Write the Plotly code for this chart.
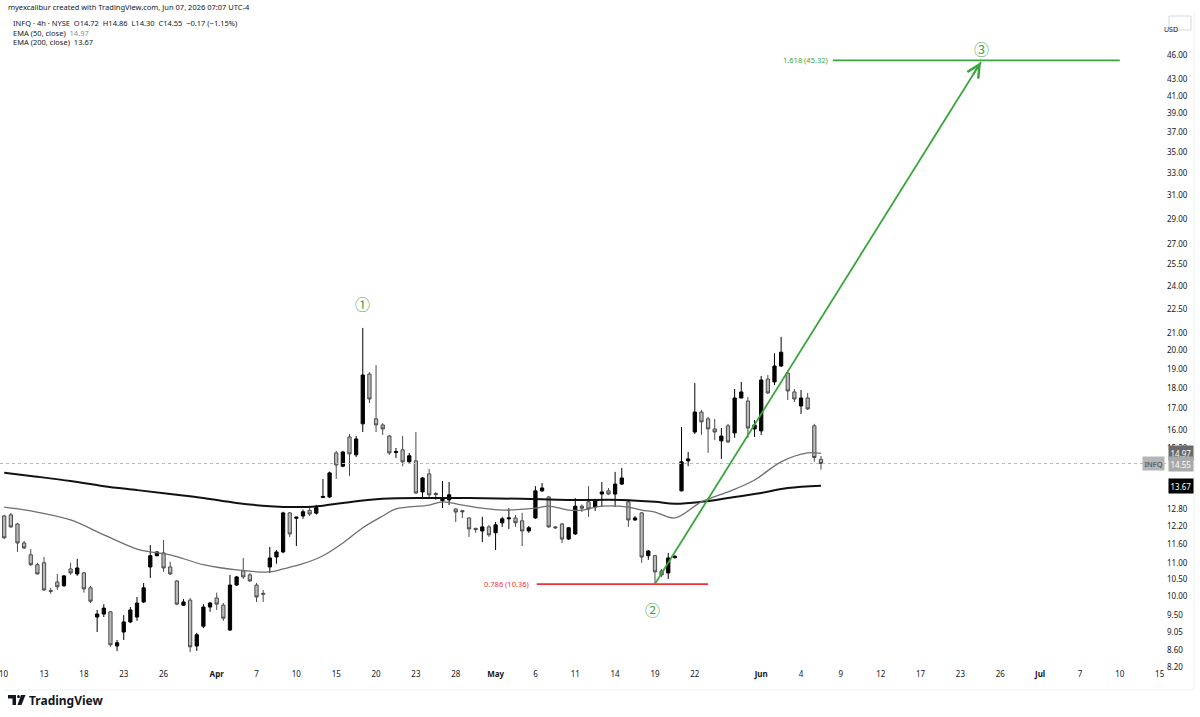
import math
import pandas as pd
import plotly.graph_objects as go

# ---------------- data ----------------
opens = [12.55, 12.59, 12.27, 11.63, 11.25, 10.94, 11.00, 10.17, 10.42, 10.31,
         10.81, 10.66, 10.69, 10.25, 9.44, 9.52, 9.58, 8.70, 9.05, 9.31,
         9.44, 9.85, 10.87, 11.22, 11.31, 10.87, 10.45, 9.76, 9.90, 8.70,
         9.20, 9.71, 9.96, 9.76, 9.10, 10.33, 10.75, 10.63, 10.33, 10.09,
         10.87, 11.18, 11.34, 12.66, 12.47, 12.55, 12.75, 12.65, 13.22, 13.24,
         14.99, 14.44, 15.68, 14.91, 16.27, 18.72, 16.50, 16.22, 15.72, 15.01,
         15.12, 14.62, 14.66, 13.43, 14.13, 13.37, 13.10, 13.13, 12.80, 12.74,
         12.48, 12.12, 12.03, 12.17, 11.97, 12.31, 12.45, 12.48, 12.38, 12.03,
         12.48, 13.47, 13.24, 12.17, 12.27, 11.76, 11.93, 12.90, 13.06, 12.87,
         13.35, 13.47, 13.35, 13.73, 13.06, 12.41, 12.66, 11.22, 11.22, 10.75,
         10.69, 11.16, 13.47, 14.66, 15.90, 16.82, 16.50, 16.04, 15.51, 16.18,
         15.86, 17.50, 17.35, 16.04, 15.95, 18.46, 18.31, 19.15, 18.77, 17.80,
         17.11, 17.50, 16.18, 14.72]
highs = [12.59, 12.66, 12.31, 11.70, 11.43, 11.00, 11.18, 10.25, 10.66, 10.63,
         11.00, 11.12, 10.72, 10.31, 9.63, 9.79, 9.60, 8.85, 9.49, 9.71,
         9.99, 10.39, 11.56, 11.37, 11.73, 11.03, 10.48, 9.93, 9.96, 9.03,
         9.79, 9.85, 10.11, 9.82, 10.63, 10.60, 11.15, 10.69, 10.39, 10.19,
         11.50, 11.40, 12.70, 12.69, 12.52, 12.78, 12.85, 12.95, 13.93, 14.22,
         15.08, 15.08, 15.81, 15.72, 21.32, 18.83, 19.20, 16.30, 15.77, 15.20,
         15.72, 14.99, 15.90, 14.01, 14.33, 13.43, 13.85, 13.81, 12.82, 12.76,
         12.50, 12.14, 12.52, 12.24, 12.34, 12.52, 12.83, 12.59, 12.66, 12.20,
         13.65, 13.77, 13.28, 12.20, 12.31, 12.17, 13.20, 12.97, 13.65, 13.17,
         13.81, 13.58, 14.21, 14.37, 13.13, 12.55, 12.69, 11.40, 11.25, 10.81,
         11.31, 11.24, 16.13, 15.03, 18.25, 16.92, 16.59, 16.50, 16.08, 16.27,
         17.95, 18.31, 17.55, 16.45, 18.62, 18.67, 19.85, 20.79, 18.93, 17.95,
         17.90, 17.75, 16.27, 14.86]
lows = [11.76, 12.14, 11.34, 11.43, 10.90, 10.64, 10.16, 10.08, 10.19, 10.28,
        10.63, 10.60, 10.11, 9.82, 9.05, 9.44, 8.68, 8.58, 8.85, 9.28,
        9.34, 9.82, 10.54, 11.20, 10.72, 10.63, 9.76, 9.74, 8.55, 8.58,
        9.15, 9.58, 9.63, 9.34, 9.08, 10.30, 10.51, 10.42, 9.85, 9.85,
        10.69, 10.97, 11.30, 11.83, 11.53, 12.45, 12.55, 12.60, 13.20, 13.20,
        13.93, 14.40, 14.05, 14.82, 15.90, 17.25, 15.90, 15.77, 14.91, 14.78,
        14.44, 14.58, 13.35, 13.24, 13.20, 13.13, 12.83, 12.94, 12.34, 12.48,
        11.83, 11.97, 11.66, 11.83, 11.40, 12.17, 12.10, 12.17, 11.53, 11.97,
        12.45, 13.43, 12.14, 12.10, 11.63, 11.73, 11.90, 12.69, 12.52, 12.73,
        12.87, 13.32, 12.87, 13.69, 12.17, 12.38, 11.00, 11.09, 10.36, 10.57,
        10.51, 11.13, 13.45, 14.44, 15.81, 15.77, 14.99, 15.55, 14.74, 15.42,
        15.64, 17.48, 15.64, 15.68, 15.77, 17.70, 18.15, 19.10, 17.40, 17.30,
        16.73, 16.92, 14.62, 14.30]
closes = [11.80, 12.17, 11.63, 11.47, 10.94, 10.66, 10.19, 10.15, 10.28, 10.60,
          10.69, 10.84, 10.22, 9.87, 9.52, 9.68, 8.73, 8.78, 9.31, 9.63,
          9.82, 10.25, 11.22, 11.34, 10.84, 10.66, 9.79, 9.85, 8.68, 8.98,
          9.71, 9.82, 9.79, 9.41, 10.33, 10.57, 10.57, 10.45, 9.99, 10.07,
          11.15, 11.34, 12.66, 11.93, 12.51, 12.70, 12.62, 12.85, 13.26, 14.17,
          14.49, 15.03, 14.95, 15.59, 18.67, 17.45, 16.22, 16.04, 14.99, 15.05,
          14.62, 14.87, 13.39, 13.97, 13.32, 13.33, 13.16, 13.32, 12.69, 12.70,
          12.10, 12.08, 12.17, 11.90, 12.24, 12.45, 12.48, 12.31, 12.03, 12.14,
          13.47, 13.58, 12.17, 12.14, 11.76, 12.14, 12.90, 12.83, 12.80, 13.13,
          13.43, 13.35, 13.73, 13.97, 12.41, 12.48, 11.18, 11.37, 10.72, 10.63,
          11.15, 11.20, 14.62, 14.74, 16.82, 16.36, 16.04, 15.90, 15.72, 15.46,
          17.50, 17.80, 16.08, 16.22, 18.41, 17.75, 19.15, 19.91, 17.85, 17.45,
          17.50, 16.97, 14.80, 14.55]

# EMA values read at sample bars
ema50_bars = [0, 4, 10, 15, 20, 22, 25, 30, 35, 40, 42, 45, 48, 51, 54, 57, 59, 64, 66,
              69, 72, 75, 80, 82, 85, 87, 90, 94, 96, 98, 101, 105, 109, 113, 117, 121, 123]
ema50_vals = [12.87, 12.73, 12.41, 11.90, 11.43, 11.34, 11.25, 10.94, 10.78, 10.72, 10.81,
              10.97, 11.22, 11.63, 12.14, 12.55, 12.80, 12.94, 13.06, 12.94, 12.83, 12.76,
              12.83, 12.90, 12.76, 12.76, 12.90, 12.87, 12.76, 12.69, 12.48, 13.06, 13.43,
              13.89, 14.62, 14.99, 14.97]
ema200_bars = [0, 4, 10, 15, 20, 25, 30, 35, 40, 45, 48, 51, 57, 64, 70, 78, 85, 93,
               98, 101, 105, 109, 114, 118, 123]
ema200_vals = [14.18, 14.05, 13.85, 13.65, 13.50, 13.35, 13.20, 13.02, 12.90, 12.87,
               12.92, 13.02, 13.17, 13.20, 13.20, 13.17, 13.13, 13.13, 13.06, 12.99,
               13.06, 13.20, 13.39, 13.58, 13.67]

last_price = 14.55
ema50_last = 14.97
ema200_last = 13.67

# Elliott / fib drawing
fib_786 = 10.36
fib_1618 = 45.32
wave2_bar, wave2_price = 98, 10.36
wave3_bar, wave3_price = 147.1, 45.1
fib786_bars = [80.2, 106]
fib1618_bars = [124.8, 168]
wave_labels = ["①", "②", "③"]
wave_label_bars = [53.9, 97.6, 147.1]
wave_label_prices = [22.81, 9.65, 46.9]

y_ticks = [8.20, 8.60, 9.05, 9.50, 10.00, 10.50, 11.00, 11.60, 12.20, 12.80,
           15.20, 16.00, 17.00, 18.00, 19.00, 20.00, 21.00, 22.50, 24.00, 25.50, 27.00,
           29.00, 31.00, 33.00, 35.00, 37.00, 39.00, 41.00, 43.00, 46.00]

tick_dates = ["2026-03-10", "2026-03-13", "2026-03-18", "2026-03-23", "2026-03-26",
              "2026-04-01", "2026-04-07", "2026-04-10", "2026-04-15", "2026-04-20",
              "2026-04-23", "2026-04-28", "2026-05-01", "2026-05-06", "2026-05-11",
              "2026-05-14", "2026-05-19", "2026-05-22", "2026-06-01", "2026-06-04",
              "2026-06-09", "2026-06-12", "2026-06-17", "2026-06-23", "2026-06-26",
              "2026-07-01", "2026-07-07", "2026-07-10", "2026-07-15"]
tick_labels = ["10", "13", "18", "23", "26", "<b>Apr</b>", "7", "10", "15", "20", "23", "28",
               "<b>May</b>", "6", "11", "14", "19", "22", "<b>Jun</b>", "4", "9", "12", "17",
               "23", "26", "<b>Jul</b>", "7", "10", "15"]
holidays = ["2026-04-03", "2026-05-25", "2026-06-19", "2026-07-03"]

# ---------------- layout constants ----------------
W, H = 1200, 717
ML, MR, MT, MB = 0, 34, 12, 49
PW, PH = W - ML - MR, H - MT - MB
X_RANGE = [-0.316, 87.48]
Y_RANGE = [0.9126, 1.7154]
FONT = "Noto Sans"
TXT = "#131722"
GREEN = "#3aa53f"
RED = "#f0303f"

days = [d for d in pd.bdate_range("2026-03-10", "2026-07-15").strftime("%Y-%m-%d") if d not in holidays]
day_index = {d: i for i, d in enumerate(days)}
tickvals = [day_index[d] for d in tick_dates]

bar_x = [k / 2 for k in range(len(opens))]


def bx(b):
    return b / 2


def px(x):
    return (x - ML) / PW


def py(y):
    return (H - MB - y) / PH


fig = go.Figure()

# price line (dotted)
fig.add_trace(go.Scatter(x=X_RANGE, y=[last_price, last_price], mode="lines",
                         line=dict(color="#b8b8b8", width=1, dash="dot"), hoverinfo="skip"))

# EMAs
fig.add_trace(go.Scatter(x=[bx(b) for b in ema200_bars], y=ema200_vals, mode="lines",
                         line=dict(color="#111111", width=2, shape="spline"), hoverinfo="skip"))
fig.add_trace(go.Scatter(x=[bx(b) for b in ema50_bars], y=ema50_vals, mode="lines",
                         line=dict(color="#6e6e6e", width=1.3, shape="spline"), hoverinfo="skip"))

# candles
fig.add_trace(go.Candlestick(
    x=bar_x, open=opens, high=highs, low=lows, close=closes,
    increasing=dict(line=dict(color="#000000", width=1), fillcolor="#000000"),
    decreasing=dict(line=dict(color="#4a4a4a", width=1), fillcolor="#b9b9b9"),
    whiskerwidth=0, hoverinfo="skip"))

# fib lines
fig.add_trace(go.Scatter(x=[bx(b) for b in fib786_bars], y=[fib_786, fib_786], mode="lines",
                         line=dict(color=RED, width=1.8), hoverinfo="skip"))
fig.add_trace(go.Scatter(x=[bx(b) for b in fib1618_bars], y=[fib_1618, fib_1618], mode="lines",
                         line=dict(color=GREEN, width=1.8), hoverinfo="skip"))
# wave arrow
fig.add_trace(go.Scatter(x=[bx(wave2_bar), bx(wave3_bar)], y=[wave2_price, wave3_price], mode="lines",
                         line=dict(color=GREEN, width=1.8), hoverinfo="skip"))

annotations = []
annotations.append(dict(x=bx(wave3_bar), y=math.log10(wave3_price), xref="x", yref="y",
                        text="", showarrow=True, ax=-9, ay=14.5, arrowhead=5, arrowsize=1.4,
                        arrowwidth=1.8, arrowcolor=GREEN))
for t, b, p in zip(wave_labels, wave_label_bars, wave_label_prices):
    annotations.append(dict(x=bx(b), y=math.log10(p), xref="x", yref="y", text=t, showarrow=False,
                            font=dict(family="Noto Sans CJK JP", size=15, color=GREEN)))
annotations.append(dict(x=bx(fib786_bars[0]) - 0.45, y=math.log10(fib_786), xref="x", yref="y",
                        text="0.786 (10.36)", showarrow=False, xanchor="right",
                        font=dict(family=FONT, size=7.5, color=RED)))
annotations.append(dict(x=bx(fib1618_bars[0]) - 0.25, y=math.log10(fib_1618), xref="x", yref="y",
                        text="1.618 (45.32)", showarrow=False, xanchor="right",
                        font=dict(family=FONT, size=7.5, color=GREEN)))

# first time label sits at the left edge and is partly cut off
annotations.append(dict(x=tickvals[0], y=py(674), xref="x", yref="paper", text=tick_labels[0],
                        showarrow=False, xanchor="center", yanchor="middle",
                        font=dict(family=FONT, size=8, color=TXT)))

# header texts
header = [
    (6, 7, "myexcalibur created with TradingView.com, Jun 07, 2026 07:07 UTC-4"),
    (11, 23, "INFQ · 4h · NYSE  O14.72  H14.86  L14.30  C14.55  −0.17 (−1.15%)"),
    (11, 33, "EMA (50, close)  <span style='color:#8a8d96'>14.97</span>"),
    (11, 42, "EMA (200, close)  13.67"),
]
for x0, y0, t in header:
    annotations.append(dict(x=px(x0), y=py(y0), xref="paper", yref="paper", text=t, showarrow=False,
                            xanchor="left", yanchor="middle", font=dict(family=FONT, size=7.5, color=TXT)))

# price tags on scale
tags = [
    (ema50_last, f"{ema50_last:.2f}", "#6a6a6a", "#ffffff"),
    (last_price, f"{last_price:.2f}", "#a9a9a9", "#ffffff"),
    (ema200_last, f"{ema200_last:.2f}", "#000000", "#ffffff"),
]
for val, t, bg, fc in tags:
    annotations.append(dict(x=px(1168), y=math.log10(val), xref="paper", yref="y", text=t,
                            showarrow=False, xanchor="left", yanchor="middle", bgcolor=bg,
                            borderpad=1.5, font=dict(family=FONT, size=8, color=fc)))
annotations.append(dict(x=px(1165), y=math.log10(last_price), xref="paper", yref="y", text="INFQ",
                        showarrow=False, xanchor="right", yanchor="middle", bgcolor="#b5b5b5",
                        borderpad=1.5, font=dict(family=FONT, size=7.5, color="#3a3a3a")))
annotations.append(dict(x=px(1180), y=py(23), xref="paper", yref="paper", text="USD",
                        showarrow=False, font=dict(family=FONT, size=7, color=TXT)))

# TradingView watermark
annotations.append(dict(x=px(27), y=py(700), xref="paper", yref="paper", text="<b>TradingView</b>",
                        showarrow=False, xanchor="left", yanchor="middle",
                        font=dict(family=FONT, size=12, color="#131722")))

shapes = [
    # USD box
    dict(type="rect", xref="paper", yref="paper", x0=px(1169), x1=px(1191), y0=py(16), y1=py(30),
         line=dict(color="#d6d8de", width=1)),
    # frame
    dict(type="line", xref="paper", yref="paper", x0=px(1194), x1=px(1194), y0=py(12), y1=py(690),
         line=dict(color="#eceef2", width=1)),
    dict(type="line", xref="paper", yref="paper", x0=px(4), x1=px(1194), y0=py(690), y1=py(690),
         line=dict(color="#eceef2", width=1)),
    # TradingView logo
    dict(type="path", xref="paper", yref="paper", fillcolor="#131722", line=dict(width=0),
         path=f"M {px(8)} {py(695)} L {px(16)} {py(695)} L {px(16)} {py(705)} L {px(12.5)} {py(705)} "
              f"L {px(12.5)} {py(698.5)} L {px(8)} {py(698.5)} Z"),
    dict(type="circle", xref="paper", yref="paper", fillcolor="#131722", line=dict(width=0),
         x0=px(17), x1=px(20), y0=py(695), y1=py(698)),
    dict(type="path", xref="paper", yref="paper", fillcolor="#131722", line=dict(width=0),
         path=f"M {px(21)} {py(695)} L {px(25.5)} {py(695)} L {px(21.5)} {py(705)} L {px(17.5)} {py(705)} Z"),
]

fig.update_layout(
    width=W, height=H,
    margin=dict(l=ML, r=MR, t=MT, b=MB),
    paper_bgcolor="#ffffff", plot_bgcolor="#ffffff",
    showlegend=False,
    font=dict(family=FONT, size=8, color=TXT),
    annotations=annotations, shapes=shapes,
    hovermode=False,
)
fig.update_xaxes(range=X_RANGE, tickvals=tickvals[1:], ticktext=tick_labels[1:], showgrid=False,
                 zeroline=False, showline=False, ticks="", rangeslider=dict(visible=False),
                 tickfont=dict(family=FONT, size=8, color=TXT))
fig.update_yaxes(type="log", range=Y_RANGE, side="right", tickvals=y_ticks,
                 ticktext=[f"{v:.2f}" for v in y_ticks], showgrid=False, zeroline=False,
                 showline=False, ticks="", tickfont=dict(family=FONT, size=8, color=TXT))

fig.write_html("out.html")
